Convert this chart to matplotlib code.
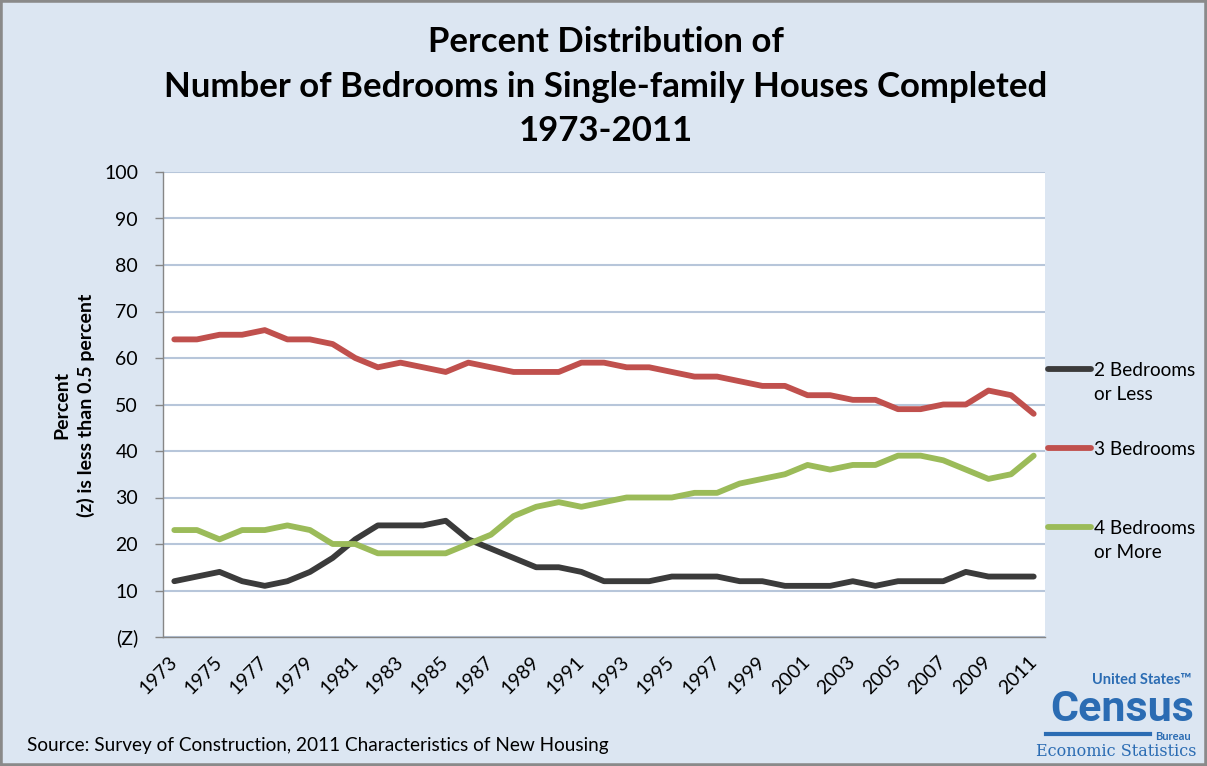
import matplotlib
matplotlib.use('Agg')
import matplotlib.pyplot as plt
from matplotlib.lines import Line2D
from matplotlib.patches import Rectangle

plt.rcParams['font.family'] = ['Lato', 'DejaVu Sans']

# -------------------------- data --------------------------
years = list(range(1973, 2012))
two_or_less = [12, 13, 14, 12, 11, 12, 14, 17, 21, 24, 24, 24, 25, 21, 19, 17, 15, 15, 14, 12,
               12, 12, 13, 13, 13, 12, 12, 11, 11, 11, 12, 11, 12, 12, 12, 14, 13, 13, 13]
three_bed = [64, 64, 65, 65, 66, 64, 64, 63, 60, 58, 59, 58, 57, 59, 58, 57, 57, 57, 59, 59,
             58, 58, 57, 56, 56, 55, 54, 54, 52, 52, 51, 51, 49, 49, 50, 50, 53, 52, 48]
four_or_more = [23, 23, 21, 23, 23, 24, 23, 20, 20, 18, 18, 18, 18, 20, 22, 26, 28, 29, 28, 29,
                30, 30, 30, 31, 31, 33, 34, 35, 37, 36, 37, 37, 39, 39, 38, 36, 34, 35, 39]
series_names = ['2 Bedrooms\nor Less', '3 Bedrooms', '4 Bedrooms\nor More']
series_colors = ['#3b3b3b', '#c0504d', '#9bbb59']
y_ticks = [0, 10, 20, 30, 40, 50, 60, 70, 80, 90, 100]
y_ticklabels = ['(Z)', '10', '20', '30', '40', '50', '60', '70', '80', '90', '100']

# -------------------------- figure --------------------------
W, H = 1207, 766
bg = '#dce6f2'
fig = plt.figure(figsize=(W / 100, H / 100), dpi=100, facecolor=bg)
fig.add_artist(Rectangle((0, 0), 1, 1, transform=fig.transFigure, fill=False,
                         edgecolor='#8a8a8a', linewidth=4))

ax = fig.add_axes([163 / W, 1 - 637 / H, (1045 - 163) / W, (637 - 172) / H])
ax.set_facecolor('white')

for vals, c in zip([two_or_less, three_bed, four_or_more], series_colors):
    ax.plot(years, vals, color=c, linewidth=4.2, solid_capstyle='round', solid_joinstyle='round', zorder=5)

ax.set_xlim(years[0] - 0.5, years[-1] + 0.5)
ax.set_ylim(0, 100)
ax.set_yticks(y_ticks)
ax.set_yticklabels(y_ticklabels)
ax.set_xticks(years[::2])
ax.set_xticklabels([str(y) for y in years[::2]], rotation=45, ha='right', va='center',
                   rotation_mode='anchor')
ax.tick_params(axis='x', length=0, pad=16, labelsize=14)
ax.tick_params(axis='y', length=6, width=1, color='#868686', pad=12, labelsize=14)
ax.grid(True, axis='y', color='#b7c6da', linewidth=1.5, zorder=0)
ax.set_axisbelow(True)
for s in ['top', 'right']:
    ax.spines[s].set_visible(False)
for s in ['left', 'bottom']:
    ax.spines[s].set_color('#868686')
    ax.spines[s].set_linewidth(1)

# y label (two bold lines)
fig.text(62 / W, 1 - 405 / H, 'Percent', rotation=90, ha='center', va='center',
         fontsize=14, fontweight='bold')
fig.text(86 / W, 1 - 405 / H, '(z) is less than 0.5 percent', rotation=90, ha='center',
         va='center', fontsize=14, fontweight='bold')

# title
for txt, yy in zip(['Percent Distribution of',
                    'Number of Bedrooms in Single-family Houses Completed',
                    '1973-2011'], [42, 87, 131]):
    fig.text(606 / W, 1 - yy / H, txt, ha='center', va='center', fontsize=25, fontweight='bold')

# legend drawn at right
for name, c, yy in zip(series_names, series_colors, [369, 448, 527]):
    fig.add_artist(Line2D([1048 / W, 1091 / W], [1 - yy / H, 1 - yy / H], color=c,
                          linewidth=4.2, solid_capstyle='round', transform=fig.transFigure))
    fig.text(1094 / W, 1 - (yy - 7) / H, name, ha='left', va='top', fontsize=13.7,
             linespacing=1.5)

# source
fig.text(27 / W, 1 - 745 / H, 'Source: Survey of Construction, 2011 Characteristics of New Housing',
         ha='left', va='center', fontsize=13.7)

# census logo
blue = '#2b6cb3'
fig.text(1191 / W, 1 - 684 / H, 'United States\u2122', ha='right', va='baseline', fontsize=10.5,
         fontweight='bold', color=blue)
fig.text(1194 / W, 1 - 721 / H, 'Census', ha='right', va='baseline', fontsize=31,
         fontweight='bold', color=blue, family=['Roboto', 'DejaVu Sans'])
fig.add_artist(Line2D([1046 / W, 1150 / W], [1 - 734 / H, 1 - 734 / H], color=blue,
                      linewidth=3, transform=fig.transFigure))
fig.text(1191 / W, 1 - 736 / H, 'Bureau', ha='right', va='center', fontsize=8,
         fontweight='bold', color=blue)
fig.text(1116 / W, 1 - 751 / H, 'Economic Statistics', ha='center', va='center', fontsize=11.5,
         color=blue, family=['DejaVu Serif'])

plt.savefig('out.png', dpi=100, facecolor=bg)
